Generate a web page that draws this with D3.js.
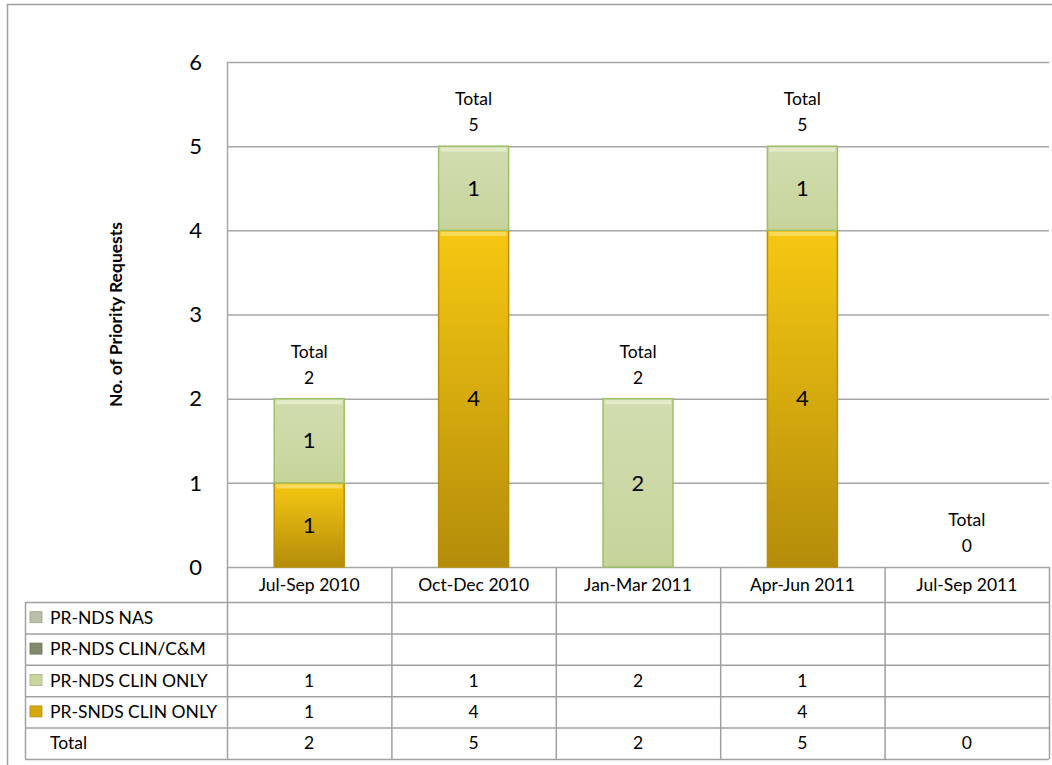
<!DOCTYPE html>
<html>
<head>
<meta charset="utf-8">
<style>
    body { margin: 0; background: #fff; }
    svg { display: block; font-family: Lato, "Open Sans", sans-serif; }
</style>
</head>
<body>
<svg width="1052" height="765"></svg>
<script src="https://d3js.org/d3.v7.min.js"></script>
<script>
    // chart values
    var quarters = ["Jul-Sep 2010", "Oct-Dec 2010", "Jan-Mar 2011", "Apr-Jun 2011", "Jul-Sep 2011"];
    var seriesNames = ["PR-NDS NAS", "PR-NDS CLIN/C&M", "PR-NDS CLIN ONLY", "PR-SNDS CLIN ONLY"];
    var ndsNas = [null, null, null, null, null];
    var ndsClinCm = [null, null, null, null, null];
    var ndsClinOnly = [1, 1, 2, 1, null];
    var sndsClinOnly = [1, 4, null, 4, null];
    var totals = [2, 5, 2, 5, 0];
    var yTicks = [0, 1, 2, 3, 4, 5, 6];

    var svg = d3.select("svg");
    var plotLeft = 227, plotRight = 1049, plotTop = 62, plotBottom = 567;

    var x = d3.scaleBand().domain(quarters).range([plotLeft, plotRight]);
    var y = d3.scaleLinear().domain([0, 6]).range([plotBottom, plotTop]);

    var defs = svg.append("defs");
    var gGold = defs.append("linearGradient").attr("id", "gold").attr("x1", 0).attr("y1", 0).attr("x2", 0).attr("y2", 1);
    gGold.append("stop").attr("offset", "0%").attr("stop-color", "#f6c812");
    gGold.append("stop").attr("offset", "100%").attr("stop-color", "#b48c0a");
    var gGreen = defs.append("linearGradient").attr("id", "green").attr("x1", 0).attr("y1", 0).attr("x2", 0).attr("y2", 1);
    gGreen.append("stop").attr("offset", "0%").attr("stop-color", "#d2ddb0");
    gGreen.append("stop").attr("offset", "100%").attr("stop-color", "#c6d49b");

    // outer frame
    svg.append("rect").attr("x", 7.5).attr("y", 4.5).attr("width", 1060).attr("height", 780)
        .attr("fill", "none").attr("stroke", "#a0a0a0").attr("stroke-width", 1.5);

    // gridlines
    svg.append("g").selectAll("line").data(yTicks).enter().append("line")
        .attr("x1", plotLeft).attr("x2", plotRight)
        .attr("y1", function(d) { return y(d) + 0.5; }).attr("y2", function(d) { return y(d) + 0.5; })
        .attr("stroke", "#a6a6a6").attr("stroke-width", 1.5);
    svg.append("line").attr("x1", plotLeft + 0.5).attr("x2", plotLeft + 0.5)
        .attr("y1", plotTop).attr("y2", plotBottom).attr("stroke", "#a6a6a6").attr("stroke-width", 1.5);

    // y axis labels
    svg.append("g").selectAll("text").data(yTicks).enter().append("text")
        .attr("x", 202).attr("y", function(d) { return y(d); })
        .attr("dy", "0.35em").attr("text-anchor", "end")
        .attr("font-size", "22px").attr("fill", "#000")
        .text(function(d) { return d; });

    svg.append("text")
        .attr("transform", "translate(122," + ((plotTop + plotBottom) / 2) + ") rotate(-90)")
        .attr("text-anchor", "middle").attr("font-size", "17.5px").attr("font-weight", "bold")
        .text("No. of  Priority Requests");

    // stacked bars
    var barW = 70;
    var stacks = [
        { vals: sndsClinOnly, fill: "url(#gold)", stroke: "#b8900c", hi: "#fbe27a" },
        { vals: ndsClinOnly, fill: "url(#green)", stroke: "#9fc06a", hi: "#eaf1d6" }
    ];
    var bars = svg.append("g");
    quarters.forEach(function(q, i) {
        var base = 0;
        stacks.forEach(function(s) {
            var v = s.vals[i];
            if (!v) return;
            var cx = x(q) + x.bandwidth() / 2;
            bars.append("rect")
                .attr("x", cx - barW / 2).attr("y", y(base + v))
                .attr("width", barW).attr("height", y(base) - y(base + v))
                .attr("fill", s.fill).attr("stroke", s.stroke).attr("stroke-width", 1.5);
            // top bevel highlight
            bars.append("rect")
                .attr("x", cx - barW / 2 + 2).attr("y", y(base + v) + 1.5)
                .attr("width", barW - 4).attr("height", 4)
                .attr("fill", s.hi).attr("opacity", 0.7);
            bars.append("text")
                .attr("x", cx).attr("y", y(base + v / 2)).attr("dy", "0.35em")
                .attr("text-anchor", "middle").attr("font-size", "22px")
                .text(v);
            base += v;
        });
    });

    // total labels
    var tl = svg.append("g");
    quarters.forEach(function(q, i) {
        var cx = x(q) + x.bandwidth() / 2;
        var top = y(totals[i]);
        var t = tl.append("text").attr("text-anchor", "middle").attr("font-size", "17.5px");
        t.append("tspan").attr("x", cx).attr("y", top - 41).text("Total");
        t.append("tspan").attr("x", cx).attr("y", top - 15).text(totals[i]);
    });

    // data table
    var tableLeft = 25, headBottom = 602, rowH = 31.4;
    var rows = [
        { name: seriesNames[0], vals: ndsNas, icon: "#b9bfa8" },
        { name: seriesNames[1], vals: ndsClinCm, icon: "#7f8a6a" },
        { name: seriesNames[2], vals: ndsClinOnly, icon: "#c8d69f" },
        { name: seriesNames[3], vals: sndsClinOnly, icon: "#d6a80e" },
        { name: "Total", vals: totals, icon: null }
    ];
    var tableBottom = headBottom + rowH * rows.length;
    var tg = svg.append("g");
    var lineColor = "#a0a0a0";

    // column lines
    x.domain().concat([null]).forEach(function(q) {
        var xx = q === null ? plotRight : x(q);
        tg.append("line").attr("x1", xx + 0.5).attr("x2", xx + 0.5)
            .attr("y1", plotBottom).attr("y2", tableBottom)
            .attr("stroke", lineColor).attr("stroke-width", 1.5);
    });
    tg.append("line").attr("x1", tableLeft + 0.5).attr("x2", tableLeft + 0.5)
        .attr("y1", headBottom).attr("y2", tableBottom).attr("stroke", lineColor).attr("stroke-width", 1.5);
    for (var r = 0; r <= rows.length; r++) {
        var yy = headBottom + r * rowH;
        tg.append("line").attr("x1", tableLeft).attr("x2", plotRight)
            .attr("y1", yy + 0.5).attr("y2", yy + 0.5).attr("stroke", lineColor).attr("stroke-width", 1.5);
    }

    quarters.forEach(function(q) {
        tg.append("text").attr("x", x(q) + x.bandwidth() / 2).attr("y", (plotBottom + headBottom) / 2)
            .attr("dy", "0.35em").attr("text-anchor", "middle").attr("font-size", "17.5px").text(q);
    });

    rows.forEach(function(row, r) {
        var cy = headBottom + r * rowH + rowH / 2;
        if (row.icon) {
            tg.append("rect").attr("x", 30).attr("y", cy - 6).attr("width", 12).attr("height", 11)
                .attr("fill", row.icon).attr("stroke", d3.color(row.icon).darker(0.5)).attr("stroke-width", 0.8);
        }
        tg.append("text").attr("x", 50).attr("y", cy).attr("dy", "0.35em")
            .attr("font-size", "17.5px").text(row.name);
        row.vals.forEach(function(v, i) {
            if (v === null) return;
            tg.append("text").attr("x", x(quarters[i]) + x.bandwidth() / 2).attr("y", cy)
                .attr("dy", "0.35em").attr("text-anchor", "middle").attr("font-size", "17.5px").text(v);
        });
    });
</script>
</body>
</html>
